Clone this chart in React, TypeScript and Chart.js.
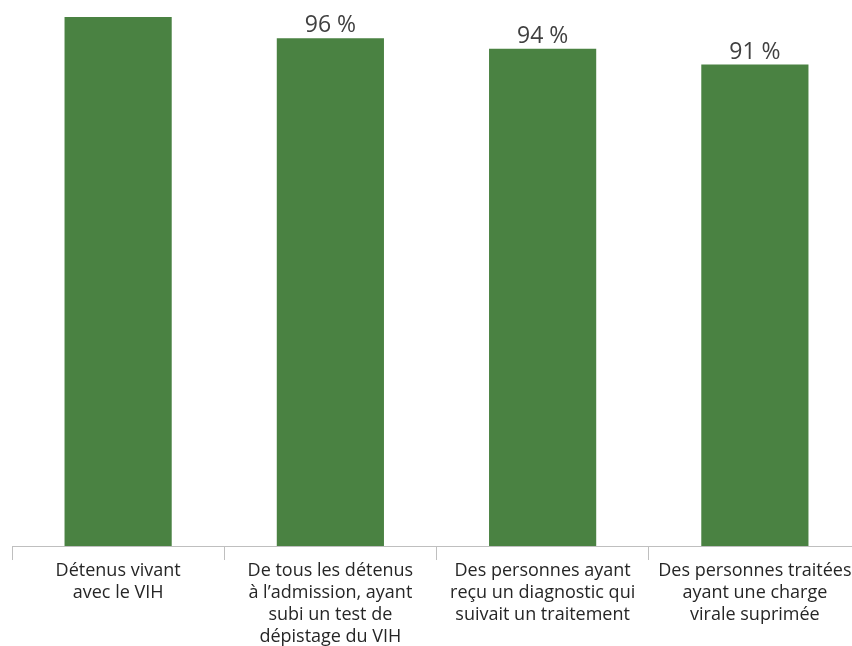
import React, { useEffect, useRef } from "react";
import { Chart, registerables } from "chart.js";

Chart.register(...registerables);

const categories: string[][] = [
  ["Détenus vivant", "avec le VIH"],
  ["De tous les détenus", "à l’admission, ayant", "subi un test de", "dépistage du VIH"],
  ["Des personnes ayant", "reçu un diagnostic qui", "suivait un traitement"],
  ["Des personnes traitées", "ayant une charge", "virale suprimée"],
];
const values: number[] = [100, 96, 94, 91];
const valueLabels: string[] = ["", "96 %", "94 %", "91 %"];

const FONT = "'Open Sans', Lato, sans-serif";

const valueLabelPlugin = {
  id: "valueLabels",
  afterDatasetsDraw(chart: any) {
    const meta = chart.getDatasetMeta(0);
    const ctx = chart.ctx;
    ctx.save();
    ctx.font = `23px ${FONT}`;
    ctx.fillStyle = "#404040";
    ctx.textAlign = "center";
    ctx.textBaseline = "alphabetic";
    meta.data.forEach((bar: any, i: number) => {
      const t = valueLabels[i];
      if (!t) return;
      ctx.fillText(t, bar.x, bar.y - 6);
    });
    ctx.restore();
  },
};

export default function App() {
  const ref = useRef<HTMLCanvasElement | null>(null);
  useEffect(() => {
    document.body.style.margin = "0";
    document.body.style.overflow = "hidden";
    const chart = new Chart(ref.current as HTMLCanvasElement, {
      type: "bar",
      data: {
        labels: categories as any,
        datasets: [
          {
            data: values,
            backgroundColor: "#4a8242",
            borderWidth: 0,
            categoryPercentage: 1,
            barPercentage: 0.505,
          },
        ],
      },
      options: {
        animation: false,
        responsive: false,
        devicePixelRatio: 1,
        layout: { padding: { top: 17, left: 12, right: 0, bottom: 0 } },
        plugins: { legend: { display: false }, tooltip: { enabled: false } },
        scales: {
          y: { display: false, min: 0, max: 100 },
          x: {
            afterFit(scale: any) {
              scale.height = 100;
            },
            border: { display: true, color: "#bfbfbf", width: 1 },
            grid: {
              offset: true,
              drawOnChartArea: false,
              drawTicks: true,
              tickLength: 14,
              color: "#bfbfbf",
              lineWidth: 1,
            },
            ticks: {
              autoSkip: false,
              maxRotation: 0,
              minRotation: 0,
              padding: 0,
              color: "#262626",
              font: { family: FONT, size: 18, lineHeight: 1.22 },
            },
          },
        },
      },
      plugins: [valueLabelPlugin],
    });
    return () => chart.destroy();
  }, []);
  return (
    <div style={{ position: "fixed", left: 0, top: 0, width: 852, height: 646, overflow: "hidden", background: "#fff" }}>
      <canvas ref={ref} width={861} height={646} style={{ display: "block" }} />
    </div>
  );
}
